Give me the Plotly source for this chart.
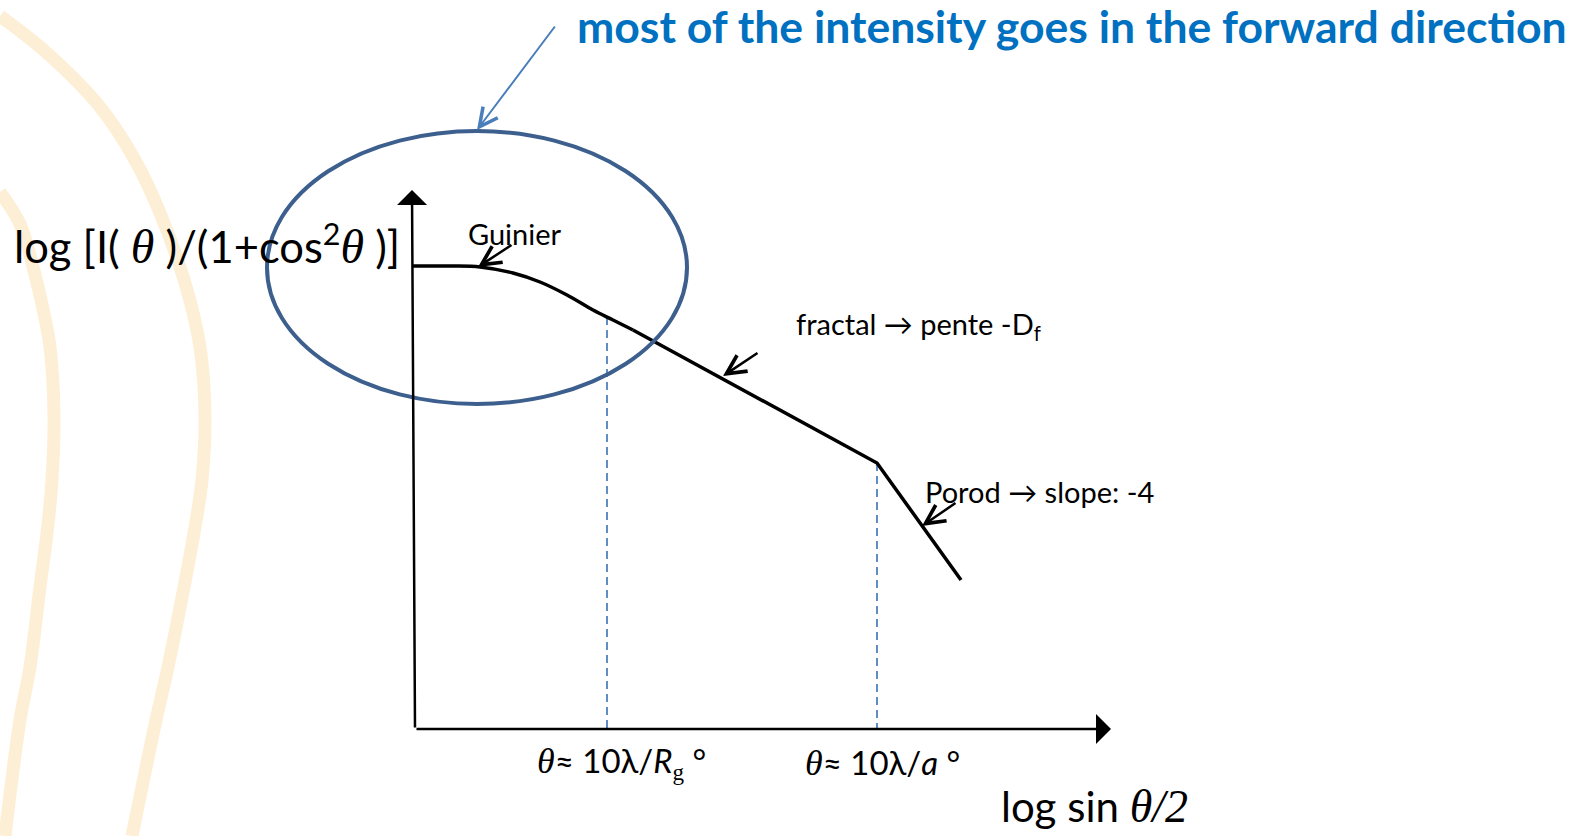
import plotly.graph_objects as go

W, H = 1591, 836
SANS = "Lato"
SERIF = "Liberation Serif"

# Light decorative bands on the left edge of the slide
band_outer_x = [0, 47, 100, 135, 160, 185, 200, 205, 202, 194, 184, 168, 156, 132]
band_outer_y = [16, 53, 107, 160, 213, 283, 347, 416, 480, 533, 587, 667, 720, 836]
band_inner_x = [0, 20, 33, 43, 50, 54, 52, 47, 40, 30, 20, 5]
band_inner_y = [192, 224, 267, 309, 347, 416, 480, 533, 587, 667, 720, 836]

# Scattering curve: smooth Guinier knee, then the fractal and Porod straight regimes
guinier_x = [413, 433, 453, 480, 513, 540, 567, 593, 613, 633]
guinier_y = [266, 266, 266, 267, 273, 282, 295, 310, 320, 330]
power_x = [633, 877, 961]
power_y = [330, 463, 580]

# Vertical guides at the two characteristic angles
guide_x = [607, 877]
guide_top = [317, 463]

# Axes (origin, ends)
origin = (415, 729)
y_tip = (412, 190)
x_tip = (1111, 729)

# Highlight ellipse around the forward-scattering region
ellipse_box = dict(x0=267, x1=687, y0=131, y1=404)

fig = go.Figure()

for bx, by in [(band_outer_x, band_outer_y), (band_inner_x, band_inner_y)]:
    fig.add_trace(go.Scatter(x=bx, y=by, mode="lines",
                             line=dict(color="#fdefd5", width=13, shape="spline"),
                             hoverinfo="skip"))

for gx, gt in zip(guide_x, guide_top):
    fig.add_trace(go.Scatter(x=[gx, gx], y=[gt, origin[1]], mode="lines",
                             line=dict(color="#4f81bd", width=1.8, dash="8px,5px"),
                             hoverinfo="skip"))

fig.add_trace(go.Scatter(x=guinier_x, y=guinier_y, mode="lines",
                         line=dict(color="black", width=3.5, shape="spline"),
                         hoverinfo="skip"))
fig.add_trace(go.Scatter(x=power_x, y=power_y, mode="lines",
                         line=dict(color="black", width=3.5),
                         hoverinfo="skip"))

fig.add_shape(type="circle", xref="x", yref="y", **ellipse_box,
              line=dict(color="#3c5f8e", width=4))


def arrow(tail, head, color="black", width=2.5, head_style=5, size=1.5):
    fig.add_annotation(x=head[0], y=head[1], ax=tail[0], ay=tail[1],
                       xref="x", yref="y", axref="x", ayref="y",
                       text="", showarrow=True, arrowhead=head_style,
                       arrowsize=size, arrowwidth=width, arrowcolor=color,
                       standoff=0, startstandoff=0)


# axes with filled heads
arrow(origin, y_tip, width=2.5, head_style=1, size=2.0)
arrow(origin, x_tip, width=2.5, head_style=1, size=2.0)

# open-headed pointers to the regimes
arrow((513, 244), (478, 267))
arrow((759, 352), (723, 376))
arrow((957, 502), (922, 526))
arrow((556, 25), (477, 130), color="#4a7ebb", width=2, size=1.8)


def label(x, y, text, size, anchor="left", color="black"):
    fig.add_annotation(x=x, y=y, xref="x", yref="y", text=text, showarrow=False,
                       xanchor=anchor, yanchor="middle",
                       font=dict(family=SANS, size=size, color=color))


def th(px=None):
    extra = f";font-size:{px}px" if px else ""
    return f"<span style='font-family:{SERIF}{extra}'><i>θ</i></span>"


label(575, 25, "<b>most of the intensity goes in the forward direction</b>", 44.5,
      color="#0070c0")
label(12, 244, f"log [I( {th(48)} )/(1+cos<sup>2</sup>{th(48)} )]", 43.5)
label(466, 233, "Guinier", 29)
label(794, 325, "fractal → pente -D<sub>f</sub>", 29)
label(923, 491, "Porod → slope: -4", 29)
label(621, 762,
      f"{th(36)}≈ 10λ/<i>R</i><sub><span style='font-family:{SERIF}'>g</span></sub> °", 33,
      anchor="center")
label(882, 762, f"{th(36)}≈ 10λ/<i>a</i> °", 33, anchor="center")
label(999, 806, f"log sin <span style='font-family:{SERIF};font-size:46px'><i>θ/2</i></span>", 42)

fig.update_layout(
    width=W, height=H,
    margin=dict(l=0, r=0, t=0, b=0),
    paper_bgcolor="white", plot_bgcolor="white",
    showlegend=False,
    xaxis=dict(range=[0, W], visible=False, fixedrange=True),
    yaxis=dict(range=[H, 0], visible=False, fixedrange=True),
)

fig.write_html("out.html")
